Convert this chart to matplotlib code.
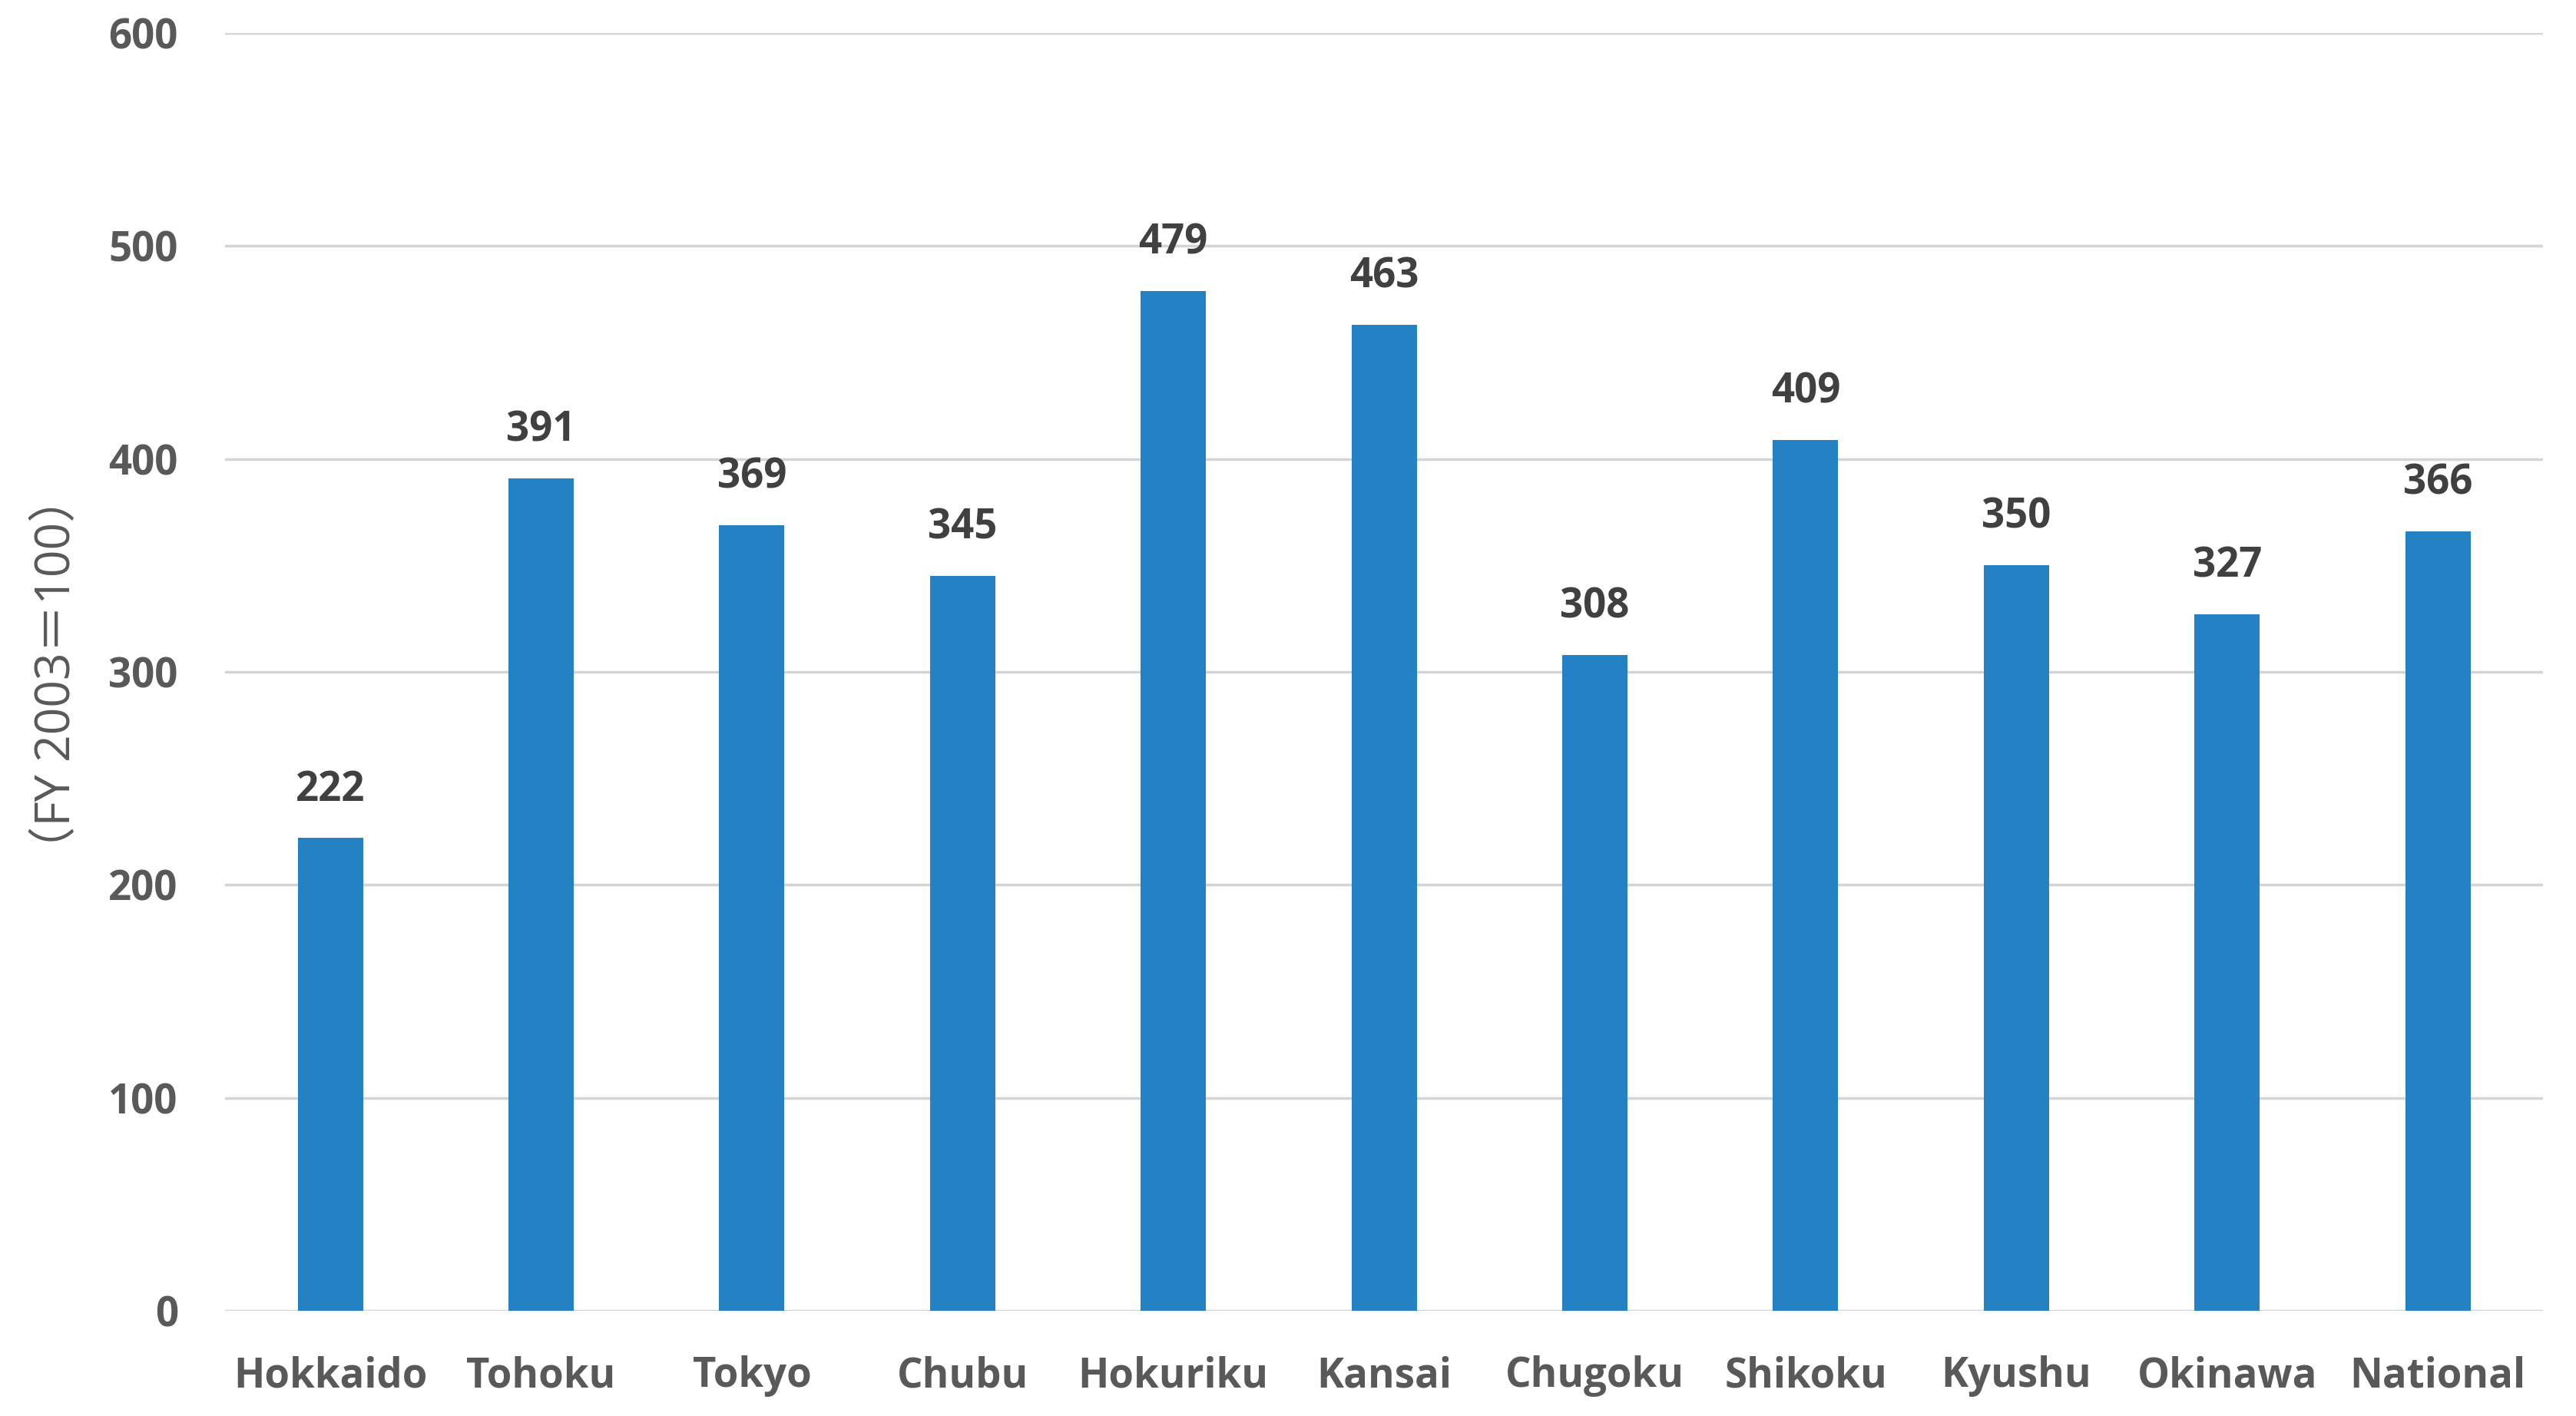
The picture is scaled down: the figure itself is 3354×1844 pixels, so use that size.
import matplotlib.pyplot as plt
import numpy as np

regions = ['Hokkaido', 'Tohoku', 'Tokyo', 'Chubu', 'Hokuriku', 'Kansai',
           'Chugoku', 'Shikoku', 'Kyushu', 'Okinawa', 'National']
index_values = [222, 391, 369, 345, 479, 463, 308, 409, 350, 327, 366]
y_ticks = [0, 100, 200, 300, 400, 500, 600]

plt.rcParams['font.family'] = ['Open Sans', 'Noto Sans CJK JP', 'DejaVu Sans']

fig = plt.figure(figsize=(33.55, 18.44), dpi=100)
ax = fig.add_axes([0.0873, 0.0743, 0.8997, 0.9024])

x = np.arange(len(regions))
ax.bar(x, index_values, width=0.31, color='#2481C3', zorder=3)

for xi, v in zip(x, index_values):
	ax.annotate(str(v), (xi, v), xytext=(0, 45), textcoords='offset points',
		ha='center', va='center', fontsize=38, fontweight='bold', color='#404040')

ax.set_xlim(-0.5, len(regions) - 0.5)
ax.set_ylim(0, 600)
ax.set_yticks(y_ticks)
ax.set_xticks(x)
ax.set_xticklabels(regions)
ax.tick_params(axis='both', length=0, labelsize=38, labelcolor='#595959')
ax.tick_params(axis='y', pad=44)
ax.tick_params(axis='x', pad=42)
for lab in ax.get_xticklabels() + ax.get_yticklabels():
	lab.set_fontweight('bold')

ax.grid(axis='y', color='#d4d4d4', linewidth=2.5, zorder=0)
for s in ax.spines.values():
	s.set_visible(False)

fig.text(0.0224, 0.524, '（FY 2003＝100）', rotation=90, ha='center', va='center',
	fontsize=45, color='#595959')

fig.savefig('out.png', dpi=100, facecolor='white')
